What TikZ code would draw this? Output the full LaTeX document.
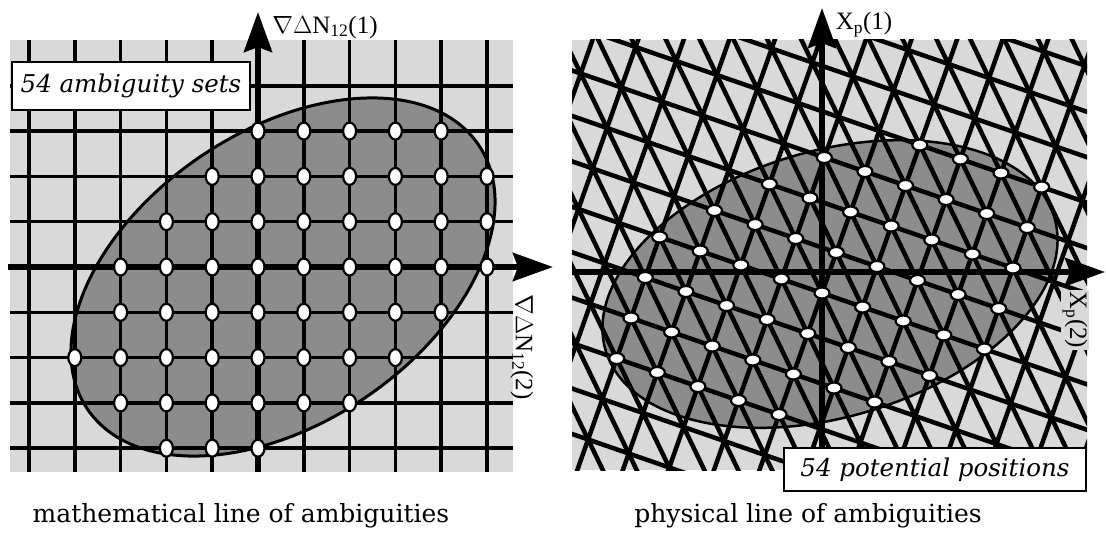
\documentclass[tikz,border=0pt]{standalone}
\usepackage{fontspec}
\setmainfont{DejaVu Serif}
\newfontfamily\tms{Liberation Serif}
\usetikzlibrary{arrows.meta}
\definecolor{bglight}{gray}{0.85}
\definecolor{ellfill}{gray}{0.55}
\begin{document}
\begin{tikzpicture}[x=1pt,y=-1pt,
  gridline/.style={line width=3.5pt},
  axisline/.style={line width=6pt,-{Stealth[length=40pt,width=28pt,inset=5pt]}},
  ldot/.style={fill=white,draw=black,line width=2.2pt},
  latline/.style={line width=4.5pt},
  lblbox/.style={draw,line width=2.5pt,fill=white,inner sep=0pt,font=\itshape\fontsize{24.5}{28}\selectfont},
  axlabel/.style={font=\tms\fontsize{25}{28}\selectfont,inner sep=0pt},
  caption/.style={font=\fontsize{25}{29}\selectfont,inner sep=0pt}]
\useasboundingbox (0,0) rectangle (1106,540);
\fill[white] (0,0) rectangle (1106,540);

% ---------------- left panel ----------------
\fill[bglight] (10,40) rectangle (513,472);
\fill[ellfill,rotate around={34:(283,277)}] (283,277) ellipse [x radius=236, y radius=146];
\foreach \k in {-5,...,5}
  \draw[gridline] ({258+45.8*\k},40) -- ({258+45.8*\k},472);
\foreach \k in {-4,...,4}
  \draw[gridline] (10,{267+45.3*\k}) -- (513,{267+45.3*\k});
\draw[line width=3pt,rotate around={34:(283,277)}] (283,277) ellipse [x radius=236, y radius=146];
\coordinate (lxs) at (8,267);
\coordinate (lxe) at (553,267);
\coordinate (lys) at (258,472);
\coordinate (lye) at (258,12);
\draw[axisline] (lxs) -- (lxe);
\draw[axisline] (lys) -- (lye);
\foreach \j/\imin/\imax in {3/0/4, 2/-1/5, 1/-2/5, 0/-3/5, -1/-3/4, -2/-4/3, -3/-3/2, -4/-2/0}
  \foreach \i in {\imin,...,\imax}
    \filldraw[ldot] ({258+45.8*\i},{267-45.3*\j}) ellipse [x radius=6.5, y radius=8.5];
\node[lblbox,minimum width=238pt,minimum height=48pt] (lbox) at (131,86) {54 ambiguity sets};
\node[axlabel] (lab1) at (325,27) {$\nabla\Delta$N\textsubscript{12}(1)};
\node[axlabel,rotate=-90] (lab2) at (522,347) {$\nabla\Delta$N\textsubscript{12}(2)};
\node[caption] (cap1) at (241,516) {mathematical line of ambiguities};

% ---------------- right panel ----------------
\fill[bglight] (572,40) rectangle (1087,470);
\fill[ellfill,rotate around={16.5:(830,284)}] (830,284) ellipse [x radius=234, y radius=133];
\begin{scope}
\clip (572,40) rectangle (1087,470);
\foreach \b in {-12,...,12}
  \draw[latline] ({822-14.3*\b-40.6*20},{293+40.5*\b-14*20}) -- ({822-14.3*\b+40.6*20},{293+40.5*\b+14*20});
\foreach \a in {-20,...,20}
  \draw[latline] ({822+40.6*\a+14.3*15},{293+14*\a-40.5*15}) -- ({822+40.6*\a-14.3*15},{293+14*\a+40.5*15});
\foreach \k in {-20,...,20}
  \draw[latline] ({822+40.6*\k-26.3*12},{293+14*\k-54.5*12}) -- ({822+40.6*\k+26.3*12},{293+14*\k+54.5*12});
\end{scope}
\draw[line width=2.5pt,rotate around={16.5:(830,284)}] (830,284) ellipse [x radius=234, y radius=133];
\coordinate (rxs) at (572,272);
\coordinate (rxe) at (1105,272);
\coordinate (rys) at (822,470);
\coordinate (rye) at (822,8);
\draw[axisline] (rxs) -- (rxe);
\draw[axisline] (rys) -- (rye);
\foreach \b/\amin/\amax in {-4/1/4, -3/-1/4, -2/-2/4, -1/-3/4, 0/-4/4, 1/-4/3, 2/-4/2, 3/-4/0}
  \foreach \a in {\amin,...,\amax}
    \filldraw[ldot] ({822+40.6*\a-14.3*\b},{293+14*\a+40.5*\b}) ellipse [x radius=7.5, y radius=5.5];
\node[lblbox,minimum width=302pt,minimum height=43pt] (rbox) at (935,469.5) {54 potential positions};
\node[axlabel] (lab3) at (864,25) {X\textsubscript{p}(1)};
\node[axlabel,rotate=-90,fill=bglight,inner sep=2pt] (lab4) at (1075,320) {X\textsubscript{p}(2)};
\node[caption] (cap2) at (808,516) {physical line of ambiguities};
\end{tikzpicture}
\end{document}
